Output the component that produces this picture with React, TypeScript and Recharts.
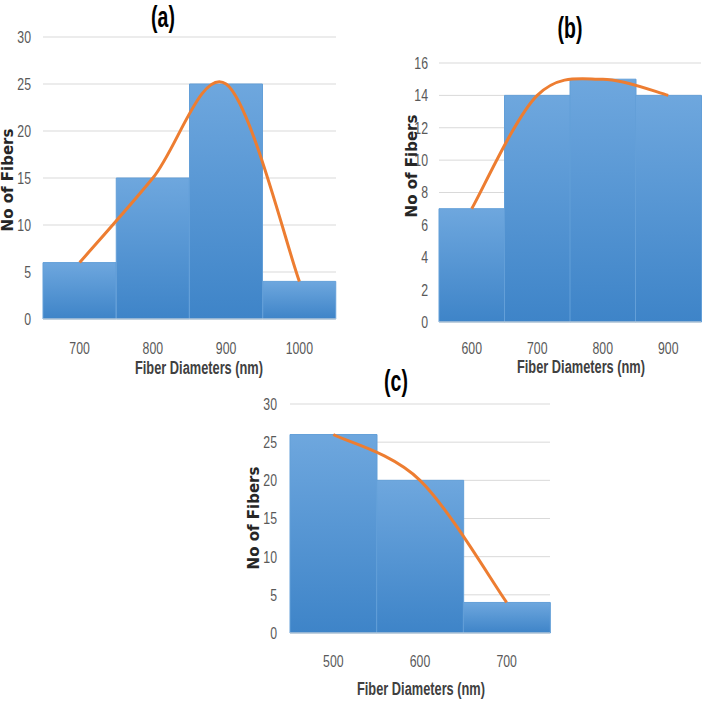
import { ComposedChart, Bar, Line, XAxis, YAxis, CartesianGrid } from 'recharts';

// (a)
const diametersA = ['700', '800', '900', '1000'];
const fibersA = [6, 15, 25, 4];
const ticksA = [0, 5, 10, 15, 20, 25, 30];

// (b)
const diametersB = ['600', '700', '800', '900'];
const fibersB = [7, 14, 15, 14];
const ticksB = [0, 2, 4, 6, 8, 10, 12, 14, 16];

// (c)
const diametersC = ['500', '600', '700'];
const fibersC = [26, 20, 4];
const ticksC = [0, 5, 10, 15, 20, 25, 30];

const narrow = "'Liberation Sans Narrow', 'Liberation Sans', Arial, sans-serif";

// Excel style smoothed line (catmull-rom through the points)
const excelSmooth = (context: any) => {
  let pts: number[][] = [];
  return {
    areaStart() {},
    areaEnd() {},
    lineStart() {
      pts = [];
    },
    point(x: number, y: number) {
      pts.push([+x, +y]);
    },
    lineEnd() {
      if (!pts.length) return;
      context.moveTo(pts[0][0], pts[0][1]);
      for (let i = 0; i < pts.length - 1; i++) {
        const p0 = pts[i - 1] || pts[i];
        const p1 = pts[i];
        const p2 = pts[i + 1];
        const p3 = pts[i + 2] || p2;
        context.bezierCurveTo(
          p1[0] + (p2[0] - p0[0]) / 6,
          p1[1] + (p2[1] - p0[1]) / 6,
          p2[0] - (p3[0] - p1[0]) / 6,
          p2[1] - (p3[1] - p1[1]) / 6,
          p2[0],
          p2[1]
        );
      }
    },
  };
};

// narrow, slightly tall tick text like the source image
const NarrowTick = ({ x, y, payload, textAnchor, isY }: any) => (
  <g transform={`translate(${x},${y})`}>
    <text
      transform="scale(0.82,1.12)"
      textAnchor={textAnchor}
      dy={isY ? '0.35em' : '0.71em'}
      fill="#595959"
      fontSize={15}
      fontFamily={narrow}
    >
      {payload.value}
    </text>
  </g>
);

function Histogram({ labels, counts, ticks, width, height, margin, yWidth, xTickMargin, yTickMargin, gradId }: any) {
  const data = labels.map((d: string, i: number) => ({ d, n: counts[i] }));
  return (
    <ComposedChart width={width} height={height} data={data} margin={margin} barCategoryGap={0}>
      <defs>
        <linearGradient id={gradId} x1="0" y1="0" x2="0" y2="1">
          <stop offset="0%" stopColor="#6ea7de" />
          <stop offset="100%" stopColor="#3e84c8" />
        </linearGradient>
      </defs>
      <CartesianGrid vertical={false} stroke="#d9d9d9" />
      <XAxis
        dataKey="d"
        axisLine={{ stroke: '#d9d9d9' }}
        tickLine={false}
        tickMargin={xTickMargin}
        tick={<NarrowTick />}
        interval={0}
      />
      <YAxis
        domain={[0, ticks[ticks.length - 1]]}
        ticks={ticks}
        width={yWidth}
        axisLine={false}
        tickLine={false}
        tickSize={0}
        tickMargin={yTickMargin}
        tick={<NarrowTick isY />}
        interval={0}
      />
      <Bar dataKey="n" fill={`url(#${gradId})`} stroke="#639fd8" strokeWidth={1} isAnimationActive={false} />
      <Line
        dataKey="n"
        type={excelSmooth as any}
        stroke="#ed7d31"
        strokeWidth={3}
        dot={false}
        activeDot={false}
        isAnimationActive={false}
      />
    </ComposedChart>
  );
}

const titleStyle: any = {
  position: 'absolute',
  transform: 'translate(-50%, -50%) scale(0.72, 1.1)',
  fontFamily: narrow,
  fontWeight: 'bold',
  fontSize: 27,
  color: '#000',
  whiteSpace: 'nowrap',
};

const xTitleStyle: any = {
  position: 'absolute',
  transform: 'translate(-50%, -50%) scale(0.8, 1.1)',
  fontFamily: narrow,
  fontWeight: 'bold',
  fontSize: 16,
  color: '#404040',
  whiteSpace: 'nowrap',
};

const yTitleStyle: any = {
  position: 'absolute',
  transform: 'translate(-50%, -50%) rotate(-90deg)',
  fontFamily: "'DejaVu Sans', Verdana, sans-serif",
  fontWeight: 'bold',
  fontSize: 15,
  color: '#262626',
  whiteSpace: 'nowrap',
};

export default function App() {
  return (
    <div style={{ position: 'absolute', left: 0, top: 0, width: 702, height: 705, background: '#fff', overflow: 'hidden' }}>
      <div style={{ position: 'absolute', left: 0, top: 0 }}>
        <Histogram
          labels={diametersA}
          counts={fibersA}
          ticks={ticksA}
          width={351}
          height={360}
          margin={{ top: 37, right: 15, bottom: 11, left: 0 }}
          yWidth={43}
          xTickMargin={17}
          yTickMargin={12}
          gradId="gradA"
        />
      </div>
      <div style={{ position: 'absolute', left: 351, top: 0 }}>
        <Histogram
          labels={diametersB}
          counts={fibersB}
          ticks={ticksB}
          width={351}
          height={360}
          margin={{ top: 63, right: 1, bottom: 8, left: 0 }}
          yWidth={88}
          xTickMargin={14}
          yTickMargin={11}
          gradId="gradB"
        />
      </div>
      <div style={{ position: 'absolute', left: 200, top: 360 }}>
        <Histogram
          labels={diametersC}
          counts={fibersC}
          ticks={ticksC}
          width={400}
          height={345}
          margin={{ top: 44, right: 50, bottom: 42, left: 0 }}
          yWidth={90}
          xTickMargin={16}
          yTickMargin={13}
          gradId="gradC"
        />
      </div>

      <div style={{ ...titleStyle, left: 163, top: 18 }}>(a)</div>
      <div style={{ ...titleStyle, left: 570, top: 29 }}>(b)</div>
      <div style={{ ...titleStyle, left: 396, top: 382 }}>(c)</div>

      <div style={{ ...xTitleStyle, left: 199, top: 368 }}>Fiber Diameters (nm)</div>
      <div style={{ ...xTitleStyle, left: 581, top: 367 }}>Fiber Diameters (nm)</div>
      <div style={{ ...xTitleStyle, left: 421, top: 690 }}>Fiber Diameters (nm)</div>

      <div style={{ ...yTitleStyle, left: 8, top: 180 }}>No of Fibers</div>
      <div style={{ ...yTitleStyle, left: 412, top: 166 }}>No of Fibers</div>
      <div style={{ ...yTitleStyle, left: 254, top: 518 }}>No of Fibers</div>
    </div>
  );
}
